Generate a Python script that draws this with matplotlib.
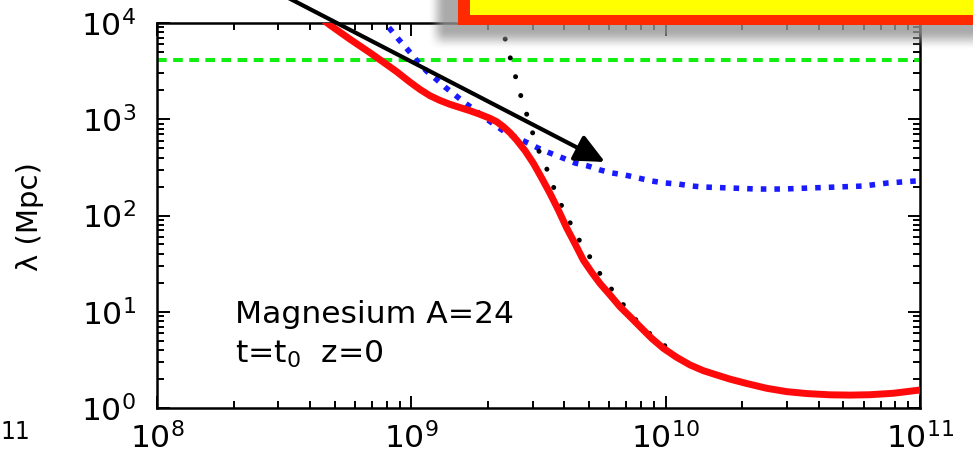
import numpy as np
import matplotlib
matplotlib.use("Agg")
import matplotlib.pyplot as plt
from matplotlib.patches import Rectangle, FancyArrowPatch
from matplotlib.ticker import LogLocator, NullFormatter

# ---------------- data (log10 E [eV], log10 lambda [Mpc]) ----------------
log_E_red = [8.60, 8.680, 8.759, 8.837, 8.896, 8.942, 8.995, 9.034, 9.073,
             9.113, 9.152, 9.191, 9.231, 9.270, 9.309, 9.336, 9.362, 9.388,
             9.414, 9.448, 9.480, 9.513, 9.545, 9.578, 9.611, 9.644, 9.676,
             9.709, 9.742, 9.782, 9.820, 9.860, 9.899, 9.945, 9.991, 10.043,
             10.096, 10.148, 10.201, 10.253, 10.318, 10.397, 10.476,
             10.555, 10.646, 10.725, 10.803, 10.895, 11.0]
log_lam_red = [4.14, 3.979, 3.831, 3.692, 3.582, 3.495, 3.385, 3.310, 3.245,
               3.195, 3.155, 3.122, 3.088, 3.051, 3.010, 2.974, 2.922, 2.860,
               2.784, 2.67, 2.542, 2.387, 2.231, 2.057, 1.870, 1.704, 1.538,
               1.410, 1.293, 1.172, 1.053, 0.949, 0.845, 0.724, 0.620, 0.527,
               0.447, 0.388, 0.343, 0.300, 0.255, 0.205, 0.170,
               0.150, 0.137, 0.134, 0.138, 0.153, 0.187]

log_E_black = [9.349, 9.368, 9.388, 9.408, 9.427, 9.447, 9.486, 9.506, 9.530,
               9.549, 9.569, 9.588, 9.608, 9.632, 9.651, 9.671, 9.695, 9.734,
               9.813, 9.87, 9.95, 10.05]
log_lam_black = [4.03, 3.844, 3.647, 3.460, 3.273, 3.106, 2.784, 2.639, 2.504,
                 2.358, 2.234, 2.119, 1.995, 1.891, 1.787, 1.694, 1.600, 1.423,
                 1.143, 0.95, 0.74, 0.54]

log_E_blue = [8.877, 8.90, 8.95, 9.00, 9.026, 9.06, 9.101, 9.132, 9.172, 9.211,
              9.250, 9.290, 9.329, 9.368, 9.408, 9.459, 9.498, 9.545, 9.596,
              9.644, 9.695, 9.742, 9.789, 9.840, 9.891, 9.946, 9.997, 10.049,
              10.104, 10.147, 10.253, 10.359, 10.461, 10.568, 10.674, 10.776,
              10.874, 10.980, 11.0]
log_lam_blue = [4.06, 3.99, 3.83, 3.68, 3.595, 3.50, 3.408, 3.335, 3.252, 3.169,
                3.096, 3.013, 2.940, 2.868, 2.816, 2.753, 2.701, 2.649, 2.597,
                2.545, 2.514, 2.473, 2.442, 2.421, 2.390, 2.358, 2.338, 2.327,
                2.306, 2.296, 2.286, 2.275, 2.275, 2.286, 2.296, 2.306,
                2.338, 2.358, 2.362]

horizon_lam = 4130.0  # Mpc

xlim = (1e8, 1e11)
ylim = (1e0, 1e4)
label_line1 = "Magnesium A=24"
label_line2 = r"t=t$_0$  z=0"
ylabel = "λ (Mpc)"

# ---------------- style ----------------
FS = 22.6
plt.rcParams["font.family"] = ["DejaVu Sans"]
plt.rcParams["mathtext.fontset"] = "dejavusans"
plt.rcParams["mathtext.default"] = "regular"

W, H = 973, 463
fig = plt.figure(figsize=(W / 100, H / 100), dpi=100)
ax = fig.add_axes([157 / W, (H - 408) / H, (920 - 157) / W, (408 - 23) / H])

ax.set_xscale("log")
ax.set_yscale("log")
ax.set_xlim(*xlim)
ax.set_ylim(*ylim)

ax.axhline(horizon_lam, color="#11ee11", lw=2.9, ls=(0, (2.4, 1.6)),
           dash_capstyle="butt", zorder=2)
ax.plot(10 ** np.array(log_E_blue), 10 ** np.array(log_lam_blue),
        color="#1a1aff", lw=4.0, ls=(0, (1.0, 1.45)), dash_capstyle="butt",
        zorder=3)
ax.plot(10 ** np.array(log_E_black), 10 ** np.array(log_lam_black),
        color="black", lw=3.6, ls=(0, (0.01, 3.9)), dash_capstyle="round",
        zorder=3)
ax.plot(10 ** np.array(log_E_red), 10 ** np.array(log_lam_red),
        color="#ff0a0a", lw=5.0, solid_capstyle="butt", solid_joinstyle="round",
        zorder=4)

for s in ax.spines.values():
    s.set_linewidth(1.8)

ax.xaxis.set_major_locator(LogLocator(base=10, numticks=10))
ax.xaxis.set_minor_locator(LogLocator(base=10, subs=np.arange(2, 10), numticks=20))
ax.yaxis.set_major_locator(LogLocator(base=10, numticks=10))
ax.yaxis.set_minor_locator(LogLocator(base=10, subs=np.arange(2, 10), numticks=20))
ax.xaxis.set_minor_formatter(NullFormatter())
ax.yaxis.set_minor_formatter(NullFormatter())

ax.tick_params(which="both", direction="in", top=True, right=True,
               labelsize=FS, width=1.4)
ax.tick_params(which="major", length=9)
ax.tick_params(which="minor", length=5)
ax.tick_params(axis="x", which="major", pad=10)
ax.tick_params(axis="y", which="major", pad=15)

fig.text(235 / W, (H - 323) / H, label_line1, fontsize=FS, ha="left",
         va="baseline")
fig.text(235 / W, (H - 363) / H, label_line2, fontsize=FS, ha="left",
         va="baseline")
fig.text(30 / W, (H - 217) / H, ylabel, fontsize=21, rotation=90,
         ha="center", va="center")
fig.text(0 / W, (H - 439) / H, "11", fontsize=17, ha="left", va="baseline")

# ---------------- overlay: arrow, shadow, box ----------------
ov = fig.add_axes([0, 0, 1, 1], zorder=10)
ov.axis("off")
ov.patch.set_alpha(0)

arrow = FancyArrowPatch((250, -22), (605, 162),
                        arrowstyle="-|>,head_length=1.5,head_width=0.7",
                        mutation_scale=12, color="black", lw=3.0,
                        shrinkA=0, shrinkB=0, zorder=1)
ov.add_patch(arrow)

# blurred drop shadow
xx, yy = np.meshgrid(np.arange(W) + 0.5, np.arange(60) + 0.5)
ax_a = np.clip((xx - 428) / 18.0, 0, 1)
ay_a = np.clip((50 - yy) / 20.0, 0, 1)
ax_a = ax_a * ax_a * (3 - 2 * ax_a)
ay_a = ay_a * ay_a * (3 - 2 * ay_a)
alpha = 0.8 * ax_a * ay_a
rgba = np.zeros((60, W, 4))
rgba[..., :3] = 0.585
rgba[..., 3] = alpha
ov.imshow(rgba, extent=(0, W, 60, 0), interpolation="bilinear", zorder=2)
ov.set_xlim(0, W)
ov.set_ylim(H, 0)

ov.add_patch(Rectangle((458, -40), 600, 65, facecolor="#ff2a00",
                       edgecolor="none", zorder=3))
ov.add_patch(Rectangle((470, -40), 600, 55, facecolor="#ffff00",
                       edgecolor="none", zorder=4))

fig.savefig("out.png", dpi=100)
